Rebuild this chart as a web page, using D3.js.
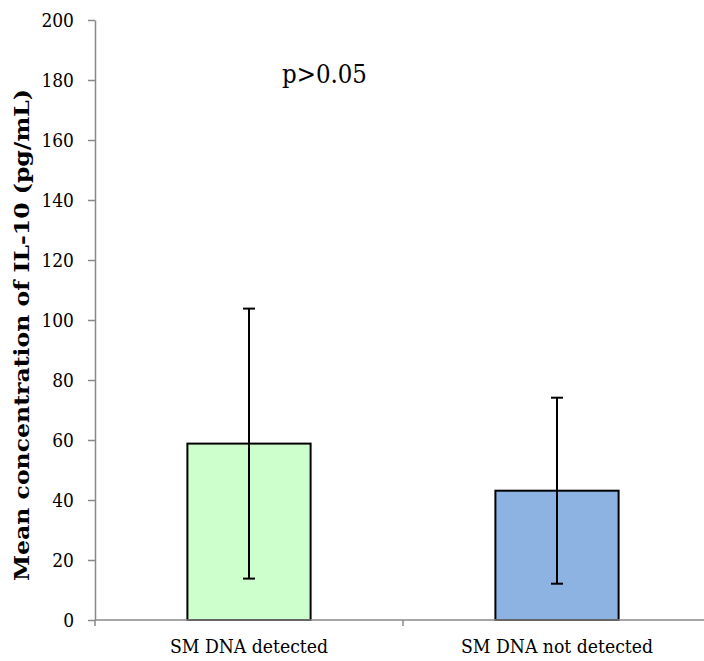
<!DOCTYPE html>
<html><head><meta charset="utf-8">
<script src="https://cdn.jsdelivr.net/npm/d3@7"></script>
<style>body{margin:0;background:#fff}svg{display:block}
text{font-family:'DejaVu Serif Condensed','DejaVu Serif',serif;font-stretch:condensed}
text.ytitle{font-family:'DejaVu Serif',serif;font-stretch:normal}</style>
</head><body>
<script>
const categories = ["SM DNA detected", "SM DNA not detected"];
const means = [58.8, 43.1];
const errors = [45, 31];
const colors = ["#ccffcc", "#8db3e2"];
const yTicks = [0, 20, 40, 60, 80, 100, 120, 140, 160, 180, 200];
const annotation = "p>0.05";
const yTitle = "Mean concentration of IL-10 (pg/mL)";

const W = 704, H = 661;
const svg = d3.select("body").append("svg").attr("width", W).attr("height", H);

const y = d3.scaleLinear().domain([0, 200]).range([620, 20]);
const x = d3.scaleBand().domain(categories).range([95, 711]).padding(0);
const barW = x.bandwidth() * 0.4;

// y axis
const yAxis = svg.append("g").attr("transform", "translate(95,0)")
  .call(d3.axisLeft(y).tickValues(yTicks).tickSize(7).tickSizeOuter(0).tickPadding(14));
yAxis.attr("font-family", null);
yAxis.select(".domain").attr("stroke", "#888").attr("stroke-width", 1.5);
yAxis.selectAll(".tick line").attr("stroke", "#888").attr("stroke-width", 1.5);
yAxis.selectAll(".tick text").attr("font-size", 19).attr("fill", "#000");

// bars
const g = svg.append("g");
g.selectAll("rect").data(categories).join("rect")
  .attr("x", d => x(d) + (x.bandwidth() - barW) / 2)
  .attr("y", (d, i) => y(means[i]))
  .attr("width", barW)
  .attr("height", (d, i) => y(0) - y(means[i]))
  .attr("fill", (d, i) => colors[i])
  .attr("stroke", "#000").attr("stroke-width", 2);

// x axis
const xAxis = svg.append("g").attr("transform", "translate(0,620)");
xAxis.append("line").attr("x1", 95).attr("x2", 711).attr("stroke", "#888").attr("stroke-width", 1.5);
const bounds = [95, ...categories.slice(1).map(c => x(c))];
xAxis.selectAll("line.t").data(bounds).join("line").attr("class", "t")
  .attr("x1", d => d).attr("x2", d => d).attr("y1", 0).attr("y2", 6)
  .attr("stroke", "#888").attr("stroke-width", 1.5);
xAxis.selectAll("text").data(categories).join("text")
  .attr("x", d => x(d) + x.bandwidth() / 2).attr("y", 33)
  .attr("text-anchor", "middle").attr("font-size", 19.2)
  .text(d => d);

// error bars
const eb = svg.append("g").attr("stroke", "#000").attr("stroke-width", 2);
categories.forEach((c, i) => {
  const cx = x(c) + x.bandwidth() / 2;
  eb.append("line").attr("x1", cx).attr("x2", cx).attr("y1", y(means[i] + errors[i])).attr("y2", y(means[i] - errors[i]));
  [means[i] + errors[i], means[i] - errors[i]].forEach(v => {
    eb.append("line").attr("x1", cx - 6).attr("x2", cx + 6).attr("y1", y(v)).attr("y2", y(v));
  });
});

// annotation
svg.append("text").attr("x", 282).attr("y", 83).attr("font-size", 25.5).text(annotation);

// y title
svg.append("text").attr("class", "ytitle").attr("transform", "translate(29,335) rotate(-90)")
  .attr("text-anchor", "middle").attr("font-weight", "bold").attr("font-size", 20)
  .attr("textLength", 492).attr("lengthAdjust", "spacingAndGlyphs")
  .text(yTitle);
</script>
</body></html>
